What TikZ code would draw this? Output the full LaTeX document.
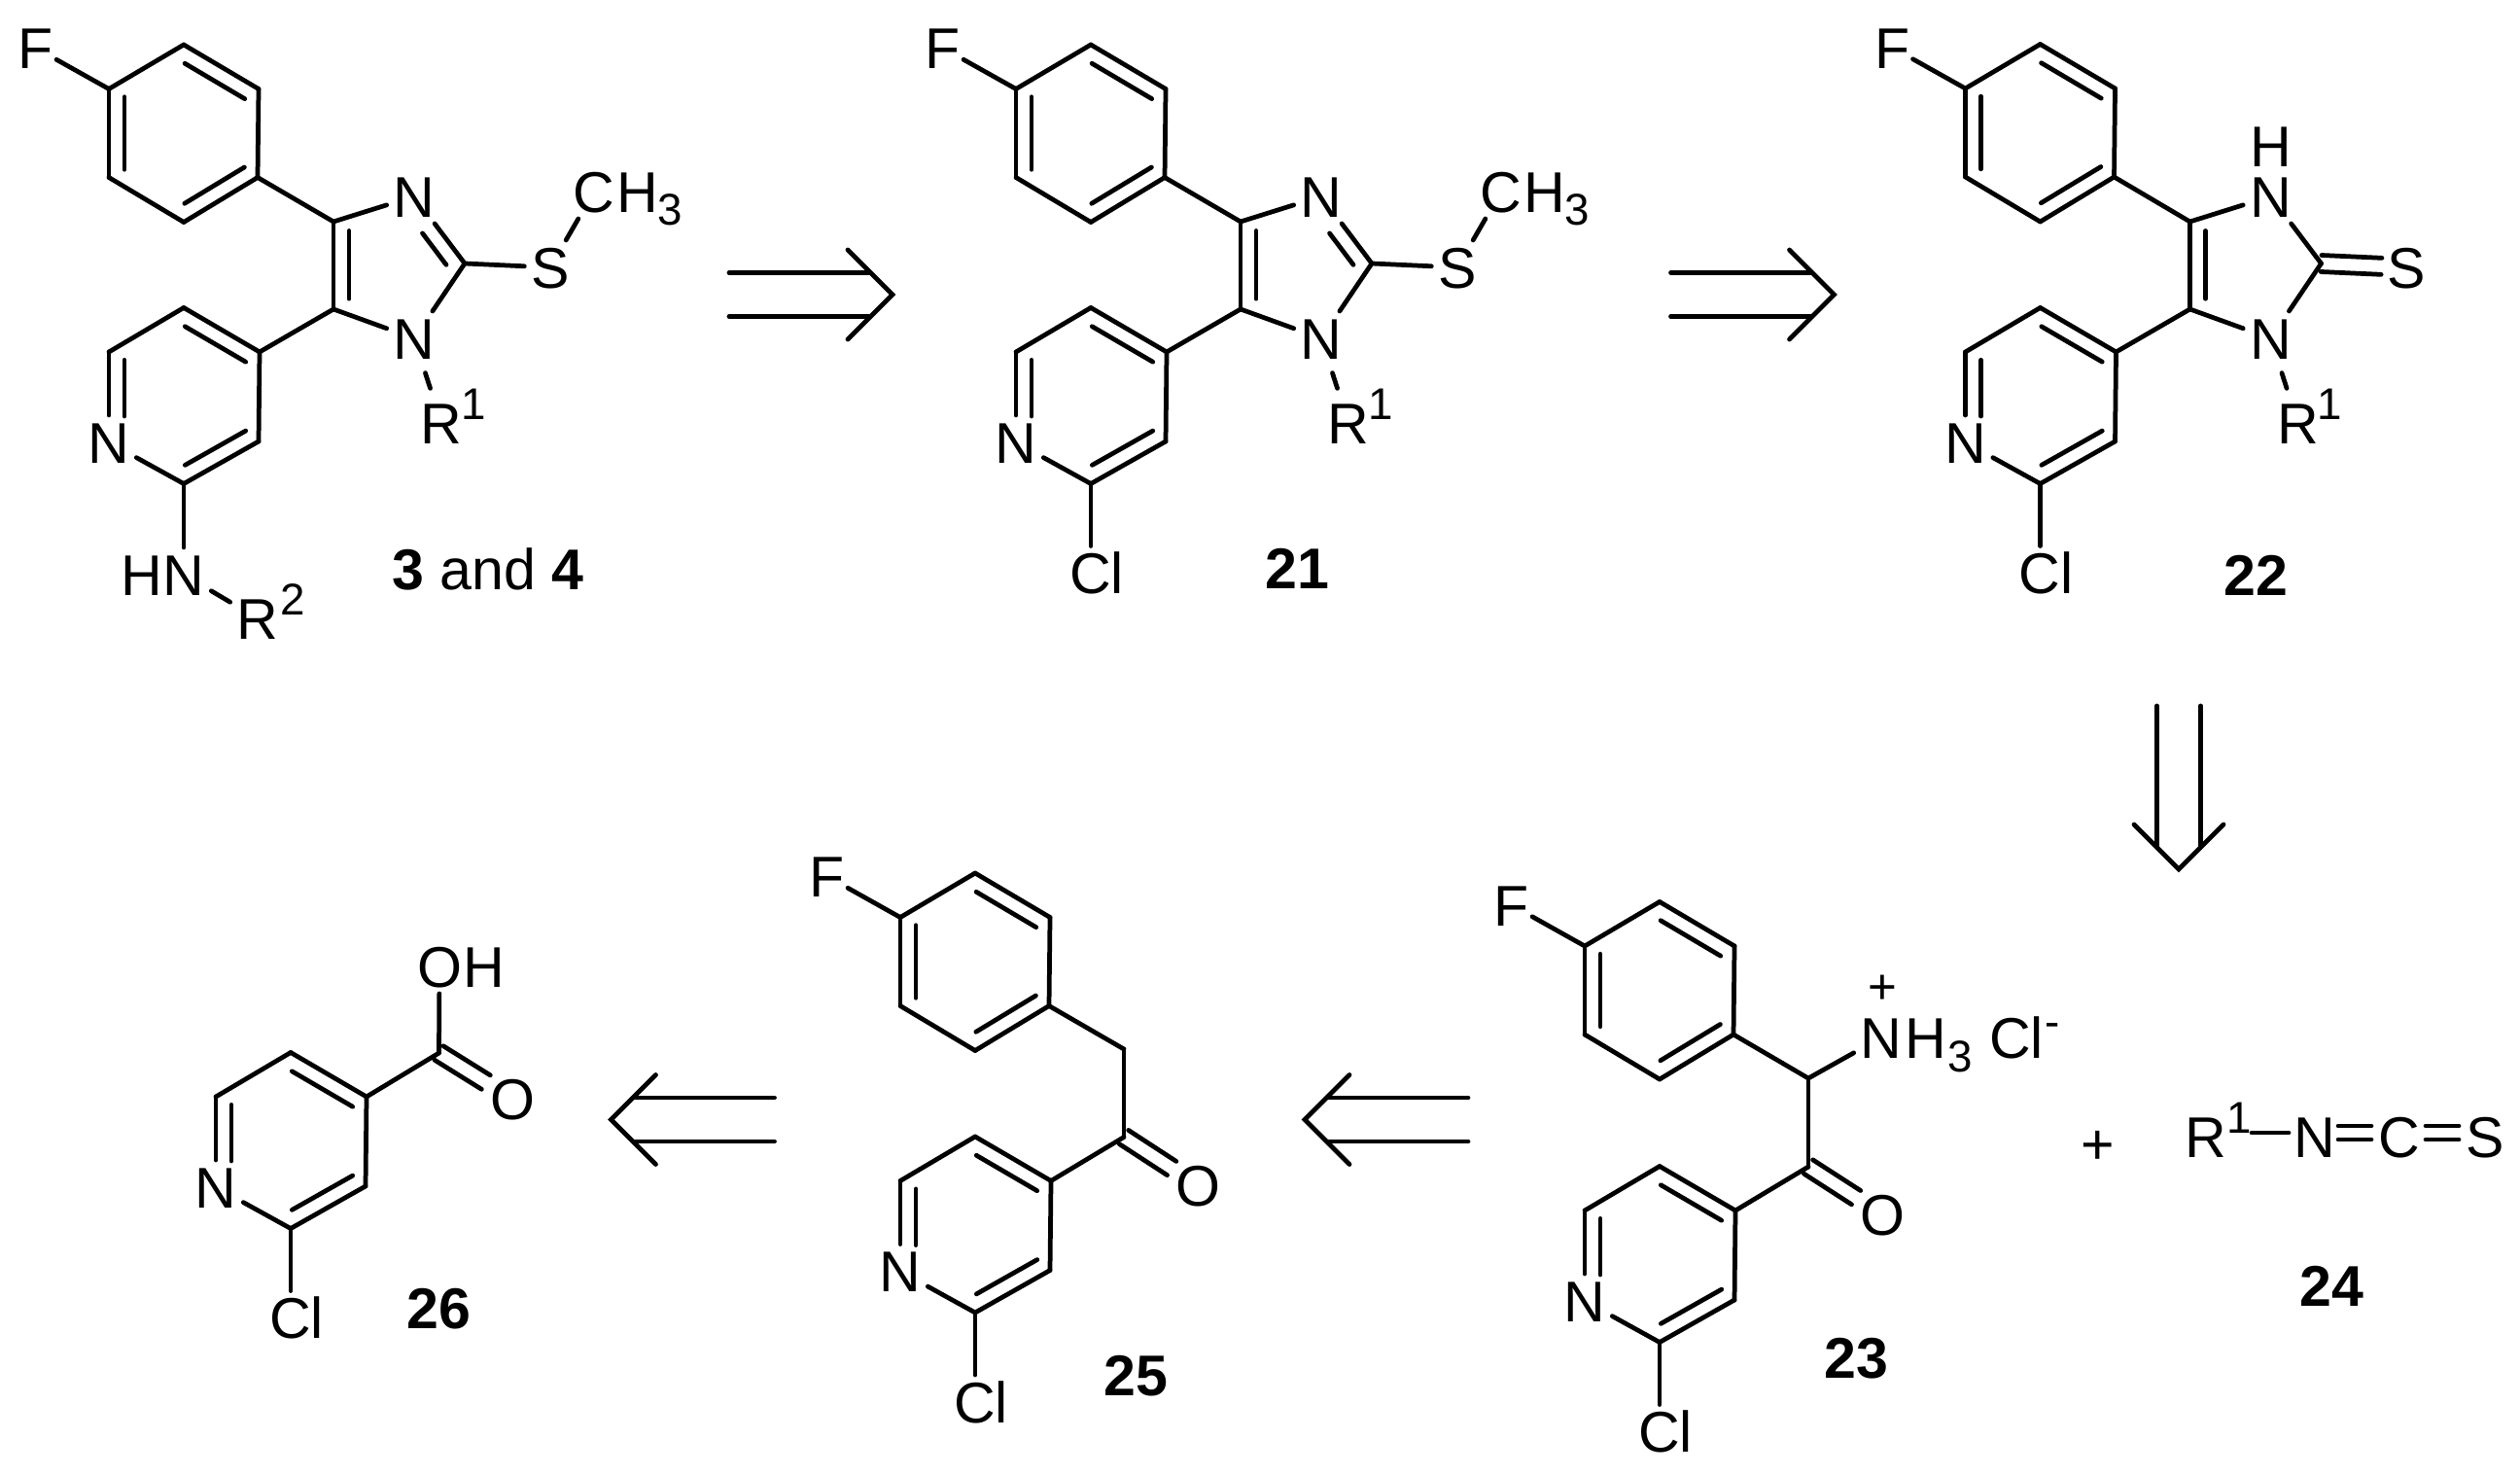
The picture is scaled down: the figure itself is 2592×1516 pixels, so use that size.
\documentclass[tikz,border=0pt]{standalone}
\usepackage{fontspec}
\setmainfont{Liberation Sans}
\usetikzlibrary{calc}
\tikzset{
  bond/.style={line width=1.35pt,line cap=round},
  shaftline/.style={line width=1.35pt,line cap=round},
  atom/.style={inner sep=.07cm,outer sep=0pt,text height=.42cm,text depth=0pt,font=\fontsize{16.8}{16.8}\selectfont},
  smallnum/.style={inner sep=0pt,outer sep=0pt,text height=.33cm,text depth=0pt,font=\fontsize{13}{13}\selectfont},
}
% outer line plus shorter inner line
\newcommand{\dbond}[5]{
  \draw (#1) -- (#2);
  \draw ($(#1)!#4!(#2)!.16cm!#3:(#2)$) -- ($(#1)!#5!(#2)!.16cm!#3:(#2)$);
}
% two equal lines either side of the axis
\newcommand{\pairbond}[5]{
  \draw[shorten <=#4,shorten >=#5] ($(#1)!#3!90:(#2)$) -- ($(#2)!#3!-90:(#1)$);
  \draw[shorten <=#4,shorten >=#5] ($(#1)!#3!-90:(#2)$) -- ($(#2)!#3!90:(#1)$);
}
\newcommand{\fluorophenyl}[3]{
  \begin{scope}[shift={(#2,#3)}]
    \coordinate (#1pa) at (0,0);
    \coordinate (#1pb) at (77,-45.5);
    \coordinate (#1pc) at (154,0);
    \coordinate (#1pd) at (153,91);
    \coordinate (#1pe) at (77,137);
    \coordinate (#1pf) at (0,91);
    \node[atom,inner sep=.03cm] (#1F) at (-75,-42) {F};
    \draw (#1F) -- (#1pa);
    \draw (#1pa) -- (#1pb);
    \dbond{#1pb}{#1pc}{-90}{.12}{.92}
    \draw (#1pc) -- (#1pd);
    \dbond{#1pd}{#1pe}{-90}{.07}{.88}
    \draw (#1pe) -- (#1pf);
    \dbond{#1pf}{#1pa}{-90}{.09}{.91}
  \end{scope}
}
\newcommand{\pyridyl}[3]{
  \begin{scope}[shift={(#2,#3)}]
    \coordinate (#1ya) at (0,0);
    \coordinate (#1yb) at (77,-45.5);
    \coordinate (#1yc) at (155,0);
    \coordinate (#1yd) at (154,92);
    \coordinate (#1ye) at (77,135.5);
    \node[atom] (#1yN) at (0,93) {N};
    \draw (#1ya) -- (#1yb);
    \dbond{#1yb}{#1yc}{-90}{.12}{.92}
    \draw (#1yc) -- (#1yd);
    \dbond{#1yd}{#1ye}{-90}{.07}{.88}
    \draw (#1ye) -- (#1yN);
    \dbond{#1ya}{#1yN}{90}{.09}{.71}
  \end{scope}
}
\newcommand{\chloro}[1]{
  \node[atom] (#1Cl) at ($(#1ye)+(6,92)$) {Cl};
  \draw (#1ye) -- (#1ye |- #1Cl.north);
}
% ring carbons, N1 and R1 of the imidazole
\newcommand{\imidazole}[2]{
  \begin{scope}[shift={(#2,0)}]
    \coordinate (#1c4) at (343,228);
    \coordinate (#1c5) at (343,318);
    \coordinate (#1c2) at (478,271);
    \node[atom] (#1n3) at (426,202) {N};
    \node[atom] (#1n1) at (426,348) {N};
    \node[atom] (#1r) at (454,435) {R};
    \node[smallnum] (#1rsup) at (487,414.5) {1};
    \dbond{#1c4}{#1c5}{90}{.105}{.88}
    \draw (#1pd) -- (#1c4);
    \draw (#1yc) -- (#1c5);
    \draw (#1c4) -- (#1n3);
    \draw (#1c5) -- (#1n1);
    \draw (#1n1) -- (#1c2);
    \draw[shorten <=.08cm,shorten >=.08cm] (#1n1) -- (#1r);
  \end{scope}
}
\newcommand{\methylthio}[2]{
  \begin{scope}[shift={(#2,0)}]
    \node[atom] (#1s) at (566,275) {S};
    \node[atom] (#1me) at (611,197) {C};
    \node[atom] (#1meh) at (656,197) {H};
    \node[smallnum] (#1mesub) at (689,214.5) {3};
    \dbond{#1n3}{#1c2}{-90}{.41}{.88}
    \draw (#1c2) -- (#1s);
    \draw (#1s) -- (#1me);
  \end{scope}
}
\newcommand{\retroarrow}[4]{
  \begin{scope}[shift={(#2,#3)},rotate=#4,shaftline]
    \coordinate (#1tip) at (0,0);
    \coordinate (#1up) at (-46,-46);
    \coordinate (#1dn) at (-46,46);
    \coordinate (#1ta) at (-168,-22.5);
    \coordinate (#1tb) at (-168,22.5);
    \coordinate (#1ha) at (-24,-22.5);
    \coordinate (#1hb) at (-24,22.5);
    \draw (#1up) -- (#1tip) -- (#1dn);
    \draw (#1ta) -- (#1ha);
    \draw (#1tb) -- (#1hb);
  \end{scope}
}
\begin{document}
\begin{tikzpicture}[x=0.01cm,y=-0.01cm,bond]
  \useasboundingbox (0,0) rectangle (2592,1516);

  % 3 and 4
  \fluorophenyl{ma}{112}{91.5}
  \pyridyl{ma}{112}{362}
  \imidazole{ma}{0}
  \methylthio{ma}{0}
  \node[atom] (mahn) at (189,591) {N};
  \node[atom] (mahnh) at (146,591) {H};
  \node[atom] (mar) at (265,636) {R};
  \node[smallnum] (marsup) at (301,616) {2};
  \draw (maye) -- (maye |- mahn.north);
  \draw (mahn) -- (mar);
  \node[atom] (maname) at (502,585) {\textbf{3} and \textbf{4}};

  % 21
  \fluorophenyl{mb}{1045}{91.5}
  \pyridyl{mb}{1045}{362}
  \imidazole{mb}{933}
  \methylthio{mb}{933}
  \chloro{mb}
  \node[atom] (mbname) at (1334.5,584) {\textbf{21}};

  % 22
  \fluorophenyl{mc}{2021.5}{91}
  \pyridyl{mc}{2021.5}{362}
  \imidazole{mc}{1909.5}
  \chloro{mc}
  \node[atom] (mcnh) at (2335.6,150) {H};
  \node[atom] (mcs) at (2475,275) {S};
  \draw (mcn3) -- (mcc2);
  \pairbond{mcc2}{mcs}{.085cm}{0cm}{.255cm}
  \node[atom] (mcname) at (2320,591) {\textbf{22}};

  % 23
  \fluorophenyl{md}{1630}{973}
  \pyridyl{md}{1630}{1245}
  \chloro{md}
  \coordinate (mdch) at (1860,1109);
  \coordinate (mdco) at (1860,1200);
  \node[atom] (mdo) at (1936,1249) {O};
  \node[atom] (mdn) at (1935,1067) {N};
  \node[atom] (mdh) at (1980.5,1067) {H};
  \node[smallnum] (mdsub) at (2016,1085.5) {3};
  \node[smallnum,font=\fontsize{14.5}{14.5}\selectfont] (mdplus) at (1936.5,1015.5) {+};
  \node[atom] (mdcl) at (2074,1067) {Cl};
  \node[smallnum] (mdminus) at (2111,1049.5) {-};
  \draw (mdpd) -- (mdch);
  \draw (mdch) -- (mdn);
  \draw (mdch) -- (mdco);
  \draw (mdyc) -- (mdco);
  \pairbond{mdco}{mdo}{.085cm}{0cm}{.32cm}
  \node[atom] (mdname) at (1909.5,1396) {\textbf{23}};

  % 24
  \node[atom] (plus) at (2158,1176) {+};
  \node[atom] (mer) at (2269,1169) {R};
  \node[smallnum] (mersup) at (2303,1149) {1};
  \node[atom] (men) at (2381,1169) {N};
  \node[atom] (mec) at (2468,1169) {C};
  \node[atom] (mes) at (2556,1169) {S};
  \coordinate (merb) at (2269,1165);
  \coordinate (menb) at (2381,1165);
  \coordinate (mecb) at (2468,1165);
  \coordinate (mesb) at (2556,1165);
  \draw[shorten <=.47cm,shorten >=.27cm] (merb) -- (menb);
  \pairbond{menb}{mecb}{.07cm}{.24cm}{.29cm}
  \pairbond{mecb}{mesb}{.07cm}{.27cm}{.27cm}
  \node[atom] (mename) at (2398.5,1322) {\textbf{24}};

  % 25
  \fluorophenyl{mf}{926}{943.5}
  \pyridyl{mf}{926}{1214.5}
  \chloro{mf}
  \coordinate (mfch) at (1156,1079);
  \coordinate (mfco) at (1156,1169.5);
  \node[atom] (mfo) at (1232,1219) {O};
  \draw (mfpd) -- (mfch);
  \draw (mfch) -- (mfco);
  \draw (mfyc) -- (mfco);
  \pairbond{mfco}{mfo}{.085cm}{0cm}{.32cm}
  \node[atom] (mfname) at (1168,1414) {\textbf{25}};

  % 26
  \pyridyl{mg}{222}{1128}
  \chloro{mg}
  \coordinate (mgco) at (451.5,1083);
  \node[atom] (mgo) at (527,1130) {O};
  \node[atom] (mgoh) at (452,994) {O};
  \node[atom] (mgh) at (498,994) {H};
  \draw (mgyc) -- (mgco);
  \draw (mgco) -- (mgoh);
  \pairbond{mgco}{mgo}{.085cm}{0cm}{.32cm}
  \node[atom] (mgname) at (451.5,1345) {\textbf{26}};

  \retroarrow{aa}{918}{303}{0}
  \retroarrow{ab}{1886.5}{303}{0}
  \retroarrow{ac}{2241}{894}{-90}
  \retroarrow{ad}{1342}{1151.5}{180}
  \retroarrow{ae}{628.5}{1151.5}{180}
\end{tikzpicture}
\end{document}
